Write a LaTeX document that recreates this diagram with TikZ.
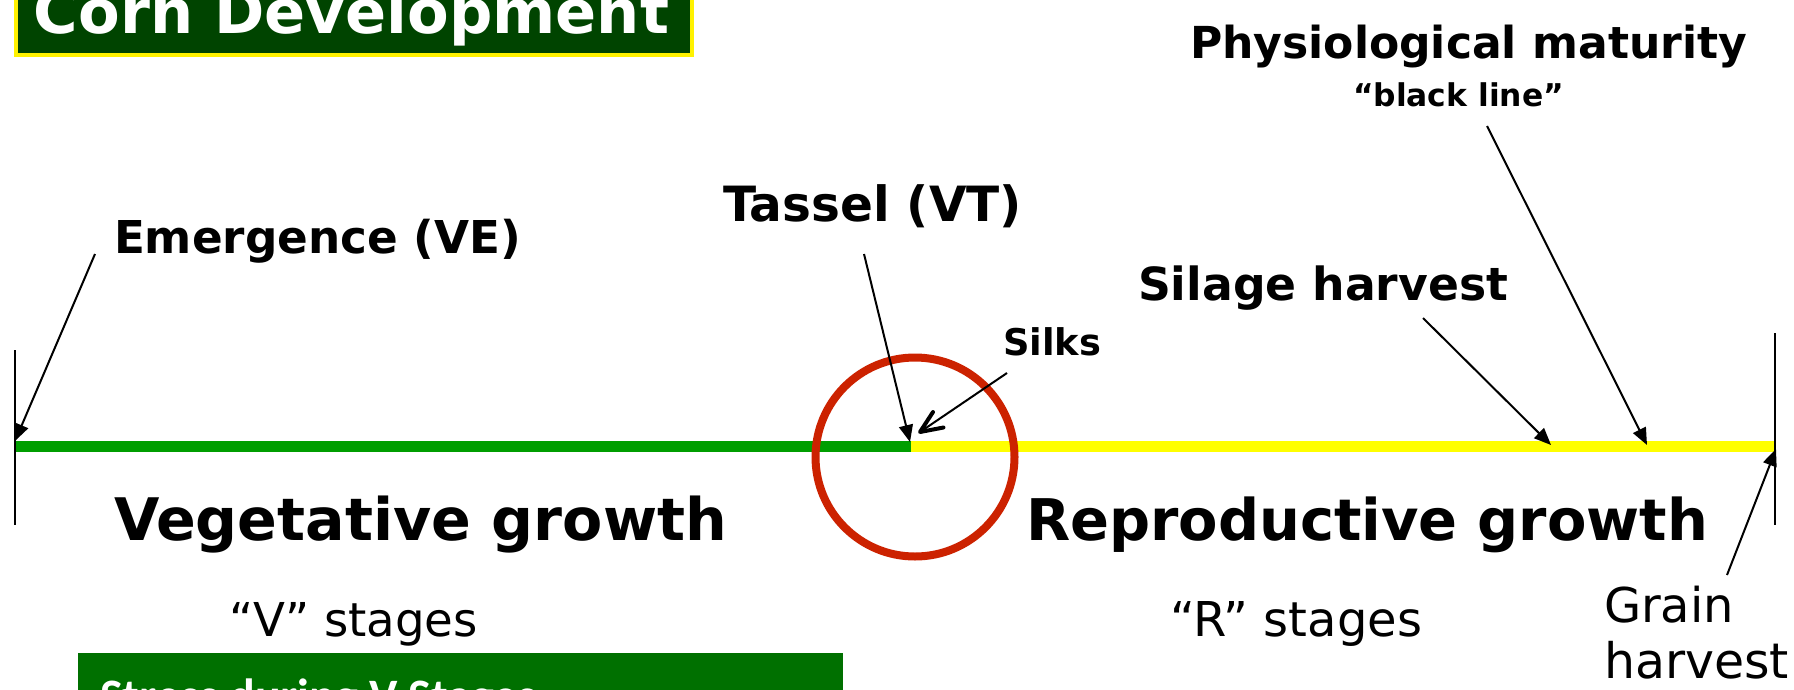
\documentclass[tikz,border=0pt]{standalone}
\usepackage{fontspec}
\usepackage{graphicx}
\setmainfont{DejaVu Sans}
\newfontfamily\boxfont{Carlito}
\usetikzlibrary{arrows.meta}

\definecolor{titlegreen}{RGB}{0,68,0}
\definecolor{boxgreen}{RGB}{0,112,0}
\definecolor{veggreen}{RGB}{0,158,0}
\definecolor{repyellow}{RGB}{255,255,0}
\definecolor{ringred}{RGB}{204,34,0}

% scale a label to an exact width (in pt)
\newcommand\fitw[2]{\resizebox{#1pt}{!}{#2}}

\tikzset{
  lbl/.style={inner sep=0pt, outer sep=0pt, anchor=base west, font=\fontsize{40}{48}\selectfont},
  ptr/.style={line width=2pt, -{Triangle[length=17pt,width=14pt]}},
  shaft/.style={line width=2pt},
  barb/.style={line width=4pt, line cap=round, line join=round},
  bar/.style={line width=11pt},
  tick/.style={line width=2pt}
}

\begin{document}
\begin{tikzpicture}[x=1pt,y=-1pt]
\useasboundingbox (0,0) rectangle (1794,689);
\fill[white] (0,0) rectangle (1794,689);
\begin{scope}
\clip (0,0) rectangle (1794,689);

% title panel
\draw[fill=titlegreen, draw=yellow, line width=4pt] (16,-20) rectangle (692,55);
\node[lbl, text=white] (title) at (34,33) {\fitw{635}{\bfseries Corn Development}};

% lower panel
\fill[boxgreen] (78,653) rectangle (843,720);
\node[inner sep=0pt, anchor=base west, text=white, font=\boxfont\bfseries\fontsize{48}{56}\selectfont] (stress) at (100,712) {Stress during V Stages};

% timeline
\coordinate (start) at (15,446);
\coordinate (mid) at (911,446);
\coordinate (end) at (1775,446);
\draw[bar, veggreen] (start) -- (mid);
\draw[bar, repyellow] (mid) -- (end);
\coordinate (lt) at (15,350);
\coordinate (lb) at (15,525);
\coordinate (rt) at (1775,333);
\coordinate (rb) at (1775,525);
\draw[tick] (lt) -- (lb);
\draw[tick] (rt) -- (rb);

% flowering window
\node[draw=ringred, line width=8pt, circle, minimum size=199pt, inner sep=0pt] (ring) at (915,457) {};

% labels
\node[lbl] (emerg) at (114,253) {\fitw{407}{\bfseries Emergence (VE)}};
\node[lbl] (tassel) at (723,221) {\fitw{299}{\bfseries Tassel (VT)}};
\node[lbl] (silks) at (1003,355) {\fitw{98}{\bfseries Silks}};
\node[lbl] (silage) at (1138,300) {\fitw{370}{\bfseries Silage harvest}};
\node[lbl] (phys) at (1190,58) {\fitw{557}{\bfseries Physiological maturity}};
\node[lbl] (black) at (1353,106) {\fitw{211}{\bfseries “black line”}};
\node[lbl] (veg) at (114,540) {\fitw{613}{\bfseries Vegetative growth}};
\node[lbl] (rep) at (1026,540) {\fitw{682}{\bfseries Reproductive growth}};
\node[lbl] (vst) at (229,636) {\fitw{249}{“V” stages}};
\node[lbl] (rst) at (1170,636) {\fitw{252}{“R” stages}};
\node[lbl] (grain) at (1604,622) {\fitw{130}{Grain}};
\node[lbl] (harv) at (1604,678) {\fitw{185}{harvest}};

% pointers
\coordinate (emergFrom) at (95,254);
\coordinate (emergTo) at (15,441);
\coordinate (tasselFrom) at (864,254);
\coordinate (tasselTo) at (910,442);
\coordinate (silksFrom) at (1007,373);
\coordinate (silksTo) at (920,432);
\coordinate (silksArmA) at (943.5,427.5);
\coordinate (silksArmB) at (933,412);
\coordinate (silageFrom) at (1423,318);
\coordinate (silageTo) at (1551,445);
\coordinate (physFrom) at (1487,126);
\coordinate (physTo) at (1647,445);
\coordinate (grainFrom) at (1727,575);
\coordinate (grainTo) at (1776,449);

\draw[ptr] (emergFrom) -- (emergTo);
\draw[ptr] (tasselFrom) -- (tasselTo);
\draw[shaft] (silksFrom) -- (silksTo);
\draw[barb] (silksArmA) -- (silksTo) -- (silksArmB);
\draw[ptr] (silageFrom) -- (silageTo);
\draw[ptr] (physFrom) -- (physTo);
\draw[ptr] (grainFrom) -- (grainTo);
\end{scope}
\end{tikzpicture}
\end{document}
